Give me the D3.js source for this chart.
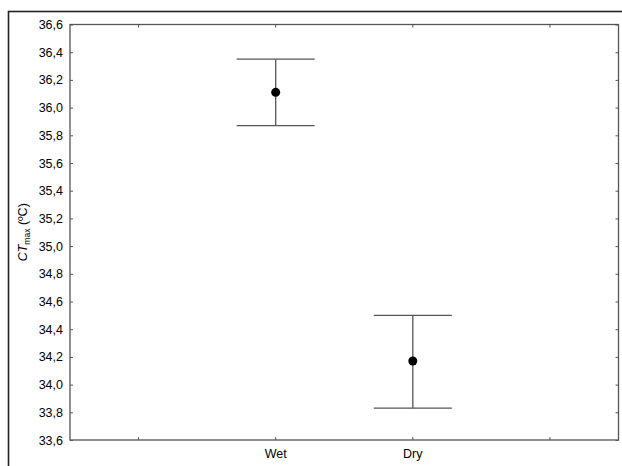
<!DOCTYPE html>
<html>
<head>
<script src="https://d3js.org/d3.v7.min.js"></script>
<style>
  body { margin: 0; background: #fff; }
  text { font-family: "Liberation Sans", Arial, sans-serif; fill: #000; }
</style>
</head>
<body>
<div id="chart"></div>
<script>
// categories on the x axis (outer two slots are empty)
const slots = ["", "Wet", "Dry", " "];
const groups = ["Wet", "Dry"];
const means = [36.11, 34.17];
const upper = [36.35, 34.50];
const lower = [35.87, 33.83];
const yTicks = d3.range(33.6, 36.61, 0.2);

const W = 622, H = 466;
const margin = {top: 24.5, right: 3.5, bottom: 26, left: 70};

const svg = d3.select("#chart").append("svg")
    .attr("width", W).attr("height", H);

// outer frame
svg.append("rect")
    .attr("x", 8.5).attr("y", 11.5)
    .attr("width", 630).attr("height", 480)
    .attr("fill", "none").attr("stroke", "#222").attr("stroke-width", 1.6);

const x = d3.scaleBand().domain(slots).range([margin.left, W - margin.right]);
const y = d3.scaleLinear().domain([33.6, 36.6]).range([H - margin.bottom, margin.top]);

const fmt = d => d3.format(".1f")(d).replace(".", ",");

// plot box
svg.append("rect")
    .attr("x", margin.left).attr("y", margin.top)
    .attr("width", W - margin.right - margin.left)
    .attr("height", H - margin.bottom - margin.top)
    .attr("fill", "none").attr("stroke", "#555").attr("stroke-width", 1.3);

// left axis
const yAxis = svg.append("g")
    .attr("transform", `translate(${margin.left},0)`)
    .call(d3.axisLeft(y).tickValues(yTicks).tickFormat(fmt).tickSize(-3).tickPadding(7));
yAxis.select(".domain").remove();
yAxis.selectAll(".tick line").attr("stroke", "#555");
yAxis.selectAll("text").attr("font-size", 12.5);

// right axis ticks
const yAxisR = svg.append("g")
    .attr("transform", `translate(${W - margin.right},0)`)
    .call(d3.axisRight(y).tickValues(yTicks).tickFormat("").tickSize(-3));
yAxisR.select(".domain").remove();
yAxisR.selectAll(".tick line").attr("stroke", "#555");

// bottom axis
const xAxis = svg.append("g")
    .attr("transform", `translate(0,${H - margin.bottom})`)
    .call(d3.axisBottom(x).tickSize(-3).tickPadding(9));
xAxis.select(".domain").remove();
xAxis.selectAll(".tick line").attr("stroke", "#555");
xAxis.selectAll("text").attr("font-size", 12.5);

// top axis ticks
const xAxisT = svg.append("g")
    .attr("transform", `translate(0,${margin.top})`)
    .call(d3.axisTop(x).tickFormat("").tickSize(-3));
xAxisT.select(".domain").remove();
xAxisT.selectAll(".tick line").attr("stroke", "#555");

// y label
svg.append("text")
    .attr("transform", `translate(27,${(margin.top + H - margin.bottom) / 2}) rotate(-90)`)
    .attr("text-anchor", "middle")
    .attr("font-size", 12.5)
    .html('<tspan font-style="italic">CT</tspan><tspan font-size="8.5" dy="3">max</tspan><tspan dy="-3"> (ºC)</tspan>');

// error bars
const cx = d => x(d) + x.bandwidth() / 2;
const capHalf = 39;
const eb = svg.append("g");
groups.forEach((g, i) => {
  eb.append("line")
      .attr("x1", cx(g)).attr("x2", cx(g))
      .attr("y1", y(upper[i])).attr("y2", y(lower[i]))
      .attr("stroke", "#555").attr("stroke-width", 1.3);
  [upper[i], lower[i]].forEach(v => {
    eb.append("line")
        .attr("x1", cx(g) - capHalf).attr("x2", cx(g) + capHalf)
        .attr("y1", y(v)).attr("y2", y(v))
        .attr("stroke", "#555").attr("stroke-width", 1.3);
  });
  eb.append("circle")
      .attr("cx", cx(g)).attr("cy", y(means[i]))
      .attr("r", 4.5).attr("fill", "#000");
});
</script>
</body>
</html>
